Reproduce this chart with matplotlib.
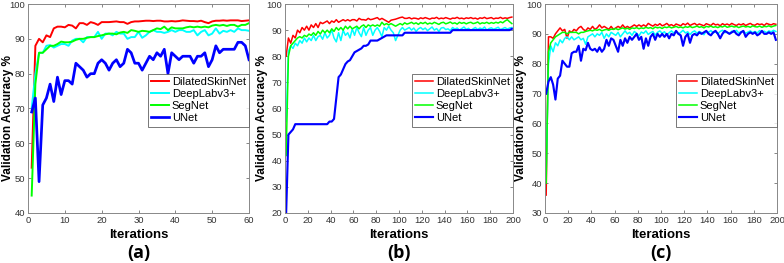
import numpy as np
import matplotlib.pyplot as plt

# ---- panel (a): 60 iterations ----
it_a = np.arange(1, 61)
red_a = [53, 88, 90, 89, 91, 90.5, 93, 93.5, 93.5, 93.3, 94, 93.8, 93, 94.5, 94.5, 94, 94.8, 94.5, 94, 94.8,
         94.8, 94.8, 94.9, 95, 94.8, 94.8, 94.3, 94.8, 95, 95, 95.1, 95.2, 95.2, 95.1, 95.2, 95.2, 95, 95, 95.1, 95,
         95.1, 95.3, 95.2, 95.1, 95.1, 95, 95.2, 94.8, 94.5, 95, 95.2, 95.2, 95.3, 95.2, 95.3, 95.3, 95.3, 95.1, 95.2, 95.3]
cyan_a = [70, 80, 86, 86, 88, 88.2, 87.5, 88, 88.5, 88.5, 88, 89.5, 90, 90, 89, 90.5, 90.5, 90.5, 92, 90,
          91.5, 91.5, 91, 92, 91.5, 91.5, 90, 90.5, 90.5, 92, 90.3, 91, 92, 92.5, 92, 92, 91.7, 92, 92.5, 92,
          92.5, 92.5, 92, 92, 92.5, 91, 92, 92.5, 91, 91.5, 93, 91.5, 92.3, 92, 92.5, 92, 93, 92.5, 92.5, 92.3]
green_a = [45, 77, 86, 86, 87, 88, 88, 88.5, 89.2, 89, 89, 89.2, 89.7, 90, 90, 90.3, 90.5, 90.5, 90.8, 91,
           91.3, 91.5, 91.5, 91.3, 91.8, 92, 91.7, 92.5, 92.3, 92, 92.3, 92.2, 92, 92.5, 93, 92.8, 93.5, 92.5, 93.3, 93,
           93, 93, 93.3, 93.5, 93.3, 93.5, 93.3, 93.5, 93.3, 93.8, 94, 93.8, 94, 93.7, 94, 94, 93.5, 94, 94, 94.5]
blue_a = [69, 73, 49, 71, 73, 77, 72, 79, 74, 78, 78, 77, 83, 82, 81, 79, 80, 80, 83, 84,
          83, 81, 83, 84, 82, 83, 87, 86, 83, 83, 81, 83, 85, 84, 86, 85, 87, 80, 86, 85,
          84, 85, 85, 85, 83, 85, 85, 86, 82, 84, 88, 86, 87, 87, 87, 87, 89, 89, 88, 84]

# ---- panel (b): 200 iterations (every other iteration read) ----
it_bc = np.arange(1, 200, 2)
red_b = [80, 87, 85, 88, 87, 90, 89, 91, 90, 91.5, 90, 92, 91, 92.5, 91, 93, 92.5, 93, 93.5, 92.5,
         93.5, 93, 94, 93, 93.5, 94, 93.5, 94, 93.5, 94, 94, 93.5, 94.5, 94, 94, 93.8, 94.5, 94, 94.2, 94.5,
         94.8, 94, 94.5, 94, 93.5, 93, 93.8, 94, 94.2, 94.5, 94.8, 95, 94.5, 94.5, 94.8, 94.3, 94.6, 94.5, 94.2, 94.7,
         94.4, 94.8, 94.5, 94.2, 94.6, 94.5, 94.9, 94.3, 94.6, 94.4, 94.8, 94.5, 94.2, 94.6, 94.5, 94.9, 94.4, 94.6, 94.3, 94.7,
         94.5, 94.8, 94.4, 94.6, 94.2, 94.7, 94.5, 94.9, 94.4, 94.6, 94.8, 94.3, 94.6, 94.5, 94.9, 94.4, 94.7, 94.5, 94.8, 95]
cyan_b = [55, 82, 84, 83, 85, 84, 86, 85, 87, 85.5, 87, 86, 88, 86, 87.5, 88, 86.5, 89, 87, 88,
          90, 87, 85.5, 89, 86, 90, 88, 89, 87, 90.5, 88, 91, 89, 87.5, 91, 88, 90, 91, 88, 90,
          91, 89.5, 87.5, 91, 90, 91.5, 90, 89, 86, 88, 90, 91, 90, 90.5, 91, 90, 90.8, 89.5, 90.5, 91,
          90.2, 90.8, 89.8, 90.5, 91.2, 90, 90.6, 89.5, 90.8, 91, 90.2, 90.5, 89.8, 91, 90.4, 90.8, 90, 90.6, 91.2, 90.3,
          90.7, 89.9, 90.5, 91, 90.2, 90.8, 90.4, 91.2, 90, 90.6, 90.9, 90.3, 90.7, 91.1, 90.2, 90.6, 91, 90.4, 90.8, 91]
green_b = [42, 80, 84, 85, 86, 87, 87.5, 87, 88, 87.5, 88.5, 88, 89, 88, 89.5, 88.5, 90, 89, 90, 89,
           90.5, 89.5, 91, 90, 91, 90, 91.5, 90.5, 91.5, 90.5, 91, 91.5, 90.5, 91.5, 92, 91, 92, 91.5, 92, 91.5,
           92, 91.5, 93, 92, 92.5, 92, 92.5, 92, 91.5, 92, 92.5, 92, 92.8, 92.3, 92.6, 93, 92.4, 92.8, 92.2, 92.9,
           92.5, 93, 92.3, 92.7, 92.4, 93, 92.6, 92.2, 92.8, 93, 92.4, 92.7, 93.1, 92.5, 92.8, 92.3, 93, 92.6, 92.9, 92.4,
           92.8, 93, 92.5, 92.7, 93.1, 92.4, 92.8, 92.6, 93, 92.5, 92.9, 92.6, 93, 92.7, 93.2, 92.8, 93.5, 94, 93.2, 92.5]
blue_b = [20, 50, 51, 52, 54, 54, 54, 54, 54, 54, 54, 54, 54, 54, 54, 54, 54, 54, 54, 55,
          55, 56, 64, 72, 73, 75, 77, 78, 78.5, 80, 81.5, 82, 82.5, 83, 84, 84, 84.5, 86, 86, 86,
          86, 86.5, 87, 87.5, 88, 88, 88, 88, 88, 88, 88, 88, 89, 89, 89, 89, 89, 89, 89, 89,
          89, 89, 89, 89, 89, 89, 89, 89, 89, 89, 89, 89, 89, 90, 90, 90, 90, 90, 90, 90,
          90, 90, 90, 90, 90, 90, 90, 90, 90, 90, 90, 90, 90, 90, 90, 90, 90, 90, 90, 90.5]

# ---- panel (c): 200 iterations (every other iteration read) ----
red_c = [36, 89, 89, 88.5, 90, 91, 92, 91, 91.5, 88.5, 91, 90.5, 91.5, 91, 92, 92.5, 91.5, 91, 92, 91.5,
         92.5, 91.5, 92, 93, 92, 92.5, 92, 91.5, 92.5, 91.5, 92, 92.5, 92, 93, 92, 92.5, 92, 92.5, 93, 92.5,
         93, 92.5, 93, 92.5, 93.5, 93, 92.6, 93.2, 92.8, 93.4, 92.7, 93, 93.5, 92.8, 93.1, 92.6, 93.3, 93, 92.7, 93.4,
         93, 93.6, 92.8, 93.2, 93.5, 92.9, 93.3, 93, 92.7, 93.4, 93.1, 92.8, 93.5, 93, 93.2, 92.7, 93.4, 93, 93.3, 92.9,
         93.5, 93.1, 92.8, 93.3, 93, 93.4, 92.8, 93.2, 93.5, 93, 92.9, 93.4, 93.1, 93.3, 92.8, 93.5, 93.2, 93, 93.4, 93.2]
cyan_c = [43, 80, 86, 84, 87, 86, 88, 87, 88.5, 89, 88, 89, 88, 88.5, 89, 88, 88.5, 86.5, 89, 89.5,
          90, 89, 90, 89.5, 90.5, 88.5, 90, 89, 90.5, 90, 89.5, 90.5, 89, 90, 91, 90, 90.5, 89.5, 90.8, 90.2,
          89.3, 90.6, 90.2, 91, 89.8, 90.4, 90.8, 89.6, 90.5, 91, 90.2, 90.7, 89.5, 90.4, 91, 90.3, 90.8, 89.9, 90.5, 91.2,
          90.3, 90.7, 89.8, 90.6, 91, 90.2, 90.8, 90.4, 89.7, 90.9, 90.5, 91.1, 90.3, 90.7, 90, 90.8, 91.2, 90.4, 90.6, 90.1,
          90.9, 90.5, 91.2, 90.3, 90.7, 90.9, 90.2, 90.6, 91, 90.4, 90.8, 90.3, 91.1, 90.6, 90.9, 90.4, 91, 90.7, 91.2, 90.8]
green_c = [40, 84, 87, 88, 89, 89.5, 90, 90.5, 90.5, 90, 90.5, 90.5, 90.5, 90.5, 90, 90.5, 90.5, 90.8, 91, 91.2,
           91, 91.4, 91.2, 91.5, 91, 91.3, 91.5, 91.2, 91.6, 91.5, 91.8, 91.4, 91.7, 92, 91.6, 91.9, 91.5, 92, 91.8, 92.1,
           91.7, 92, 91.8, 92.2, 91.9, 92.1, 91.7, 92.3, 92, 92.2, 91.8, 92.3, 92.1, 92.4, 92, 92.2, 92.5, 92.1, 92.3, 92,
           92.4, 92.2, 92.5, 92.1, 92.3, 92.6, 92.2, 92.4, 92, 92.5, 92.3, 92.6, 92.2, 92.4, 92.1, 92.5, 92.3, 92.7, 92.2, 92.4,
           92.6, 92.3, 92.5, 92.1, 92.4, 92.6, 92.3, 92.5, 92.2, 92.7, 92.4, 92.3, 92.6, 92.2, 92.5, 92.4, 92.7, 92.3, 92.6, 92.8]
blue_c = [70, 74, 75.5, 73, 68, 75, 76, 81, 80, 79, 79, 83.5, 84, 84, 86, 81, 85, 84.5, 87, 85,
          84.5, 85, 84, 85.5, 84, 85, 88, 86, 88.5, 88, 86, 84, 88, 86, 88.5, 87, 89, 88, 89, 90,
          88, 89, 85, 88.5, 86, 89, 90, 88, 90, 89, 90, 89, 90, 88.5, 90, 89.5, 91, 90, 89.5, 86,
          89, 90, 87, 89.5, 90, 89.5, 90.5, 90, 90.5, 91, 90, 89.5, 90.5, 91, 90, 88.5, 90, 91, 90.5, 90,
          90.5, 91, 90, 89.5, 90.5, 91, 89, 90, 90.5, 90, 90.5, 89.5, 90, 91, 90, 90, 90.5, 90, 90.5, 88]

names = ['DilatedSkinNet', 'DeepLabv3+', 'SegNet', 'UNet']
colors = ['#ff0000', '#00ffff', '#00ff00', '#0000ff']

plt.rcParams['font.family'] = ['Liberation Sans', 'DejaVu Sans']

fig = plt.figure(figsize=(7.84, 2.63), dpi=100)
H = 263.0
W = 784.0
boxes = [(28, 249), (285, 513), (545, 777)]
ylab_x = [8, 262, 521]
panels = [
    (it_a, [red_a, cyan_a, green_a, blue_a], (0, 60), np.arange(0, 61, 10), (40, 100), '(a)', 1.4),
    (it_bc, [red_b, cyan_b, green_b, blue_b], (0, 200), np.arange(0, 201, 20), (20, 100), '(b)', 1.1),
    (it_bc, [red_c, cyan_c, green_c, blue_c], (0, 200), np.arange(0, 201, 20), (30, 100), '(c)', 1.1),
]

for (x0, x1), lx, (xs, series, xlim, xt, ylim, tag, lw0) in zip(boxes, ylab_x, panels):
    ax = fig.add_axes([x0 / W, 1 - 213 / H, (x1 - x0) / W, 209 / H])
    for ys, c, n in zip(series, colors, names):
        lw = lw0 * 1.4 if c == '#0000ff' else lw0
        ax.plot(xs, ys, color=c, lw=lw, label=n)
    ax.set_xlim(*xlim)
    ax.set_ylim(*ylim)
    ax.set_xticks(xt)
    ax.set_yticks(np.arange(ylim[0], 101, 10))
    ax.tick_params(direction='in', top=True, right=True, labelsize=6.8, length=2.5,
                   width=0.5, color='#555555', pad=2, labelcolor='#333333')
    for s in ax.spines.values():
        s.set_color('#888888')
        s.set_linewidth(0.7)
    ax.set_xlabel('Iterations', fontsize=9.5, fontweight='bold', labelpad=3)
    fig.text(lx / W, 1 - 118 / H, 'Validation Accuracy %', rotation=90, ha='center', va='center',
             fontsize=8.5, fontweight='bold')
    leg = ax.legend(loc='upper right', bbox_to_anchor=(1.0, 0.665), fontsize=8,
                    frameon=True, fancybox=False, edgecolor='#555555', handlelength=1.6,
                    borderpad=0.3, labelspacing=0.18, handletextpad=0.25, borderaxespad=0.0)
    leg.get_frame().set_linewidth(0.7)
    fig.text((x0 + x1) / 2 / W, 1 - 253 / H, tag, ha='center', va='center',
             fontsize=13, fontweight='bold', family=['Open Sans', 'DejaVu Sans'])

fig.savefig('out.png', dpi=100)
